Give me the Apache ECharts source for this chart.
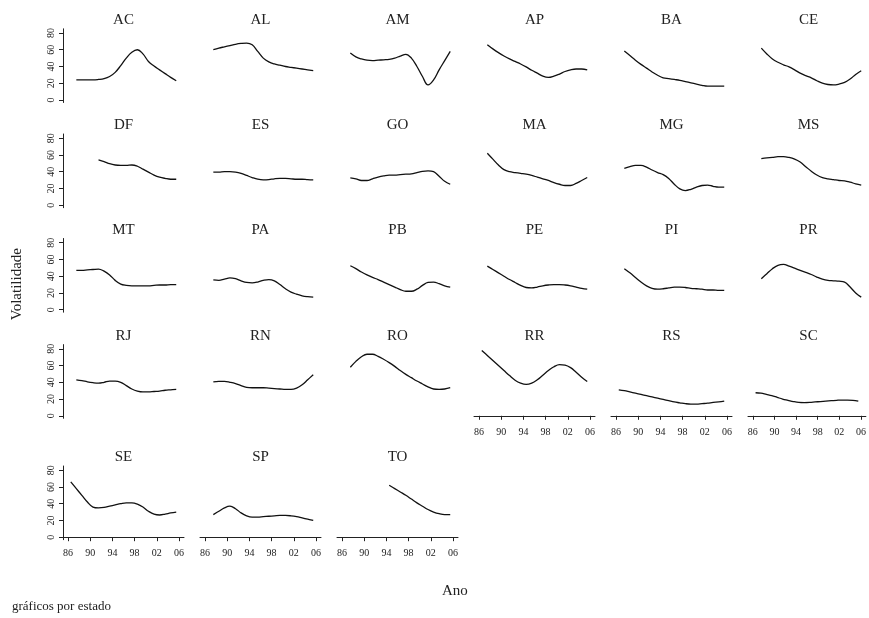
<!DOCTYPE html>
<html>
<head>
<meta charset="utf-8">
<script src="https://cdn.jsdelivr.net/npm/echarts@6/dist/echarts.min.js"></script>
<style>
  html, body { margin: 0; background: #fff; }
  #chart { width: 869px; height: 618px; }
</style>
</head>
<body>
<div id="chart"></div>
<script>
// mid-year points of the smoothed volatility curves
const years = [1986.5, 1987.5, 1988.5, 1989.5, 1990.5, 1991.5, 1992.5, 1993.5, 1994.5, 1995.5,
  1996.5, 1997.5, 1998.5, 1999.5, 2000.5, 2001.5, 2002.5, 2003.5, 2004.5, 2005.5]

const states = ['AC', 'AL', 'AM', 'AP', 'BA', 'CE', 'DF', 'ES', 'GO', 'MA', 'MG', 'MS', 'MT', 'PA',
  'PB', 'PE', 'PI', 'PR', 'RJ', 'RN', 'RO', 'RR', 'RS', 'SC', 'SE', 'SP', 'TO']

const AC = [null, 24, 24, 24, 24, 24.5, 25.5, 28, 33, 41, 50, 57, 60, 55, 46, 40.5, 36, 31.5, 27, 23]
const AL = [null, 60, 62, 63.5, 65, 66.5, 67.5, 68, 66, 58, 50, 45.5, 43, 41.5, 40, 39, 38, 37, 36, 35]
const AM = [null, 56, 51.5, 49, 47.5, 47, 47.5, 48, 48.5, 50, 52.5, 54.5, 50, 40, 28, 18, 24, 36, 47, 58]
const AP = [null, 66, 61, 56.5, 52.5, 49, 46, 43, 39.5, 35.5, 32, 28.5, 27, 28.5, 31, 34, 36, 37, 37, 36]
const BA = [null, 58.5, 53, 47.5, 42.5, 38, 33.5, 29.5, 26.5, 25.5, 24.5, 23.5, 22, 20.5, 19, 17.5, 16.5, 16.5, 16.5, 16.5]
const CE = [null, 62, 55, 49, 45, 42, 39.5, 36, 32, 29, 26.5, 23, 20, 18.5, 18, 19, 21, 25, 30.5, 35]
const DF = [null, null, null, null, null, 54, 52, 49.5, 48, 47.5, 47.5, 48, 46.5, 43, 39.5, 36, 33.5, 32, 31, 31]
const ES = [null, 39.5, 39.5, 40, 40, 39.5, 38, 35.5, 33, 31, 30.2, 30.5, 31.5, 32, 32, 31.5, 31, 31, 30.5, 30.2]
const GO = [null, 32.5, 31.5, 29.5, 29.5, 31.5, 33.5, 35, 36, 36, 36.5, 37, 37.5, 39, 40.5, 41, 40, 34.5, 28.5, 25]
const MA = [null, 62, 55, 48, 42.5, 40, 39, 38, 37, 35.5, 33.5, 31.5, 29.5, 27, 25, 23.5, 23.5, 26, 29.5, 33]
const MG = [null, 44, 46, 47.5, 47.5, 45.5, 42, 39, 36.5, 32, 25, 19.5, 17.5, 19, 21.5, 23.5, 24, 22.5, 21.5, 21.5]
const MS = [null, 55.5, 56.5, 57, 58, 58, 57, 55, 51.5, 46, 40.5, 36, 33, 31.5, 30.5, 29.5, 29, 27.5, 25.5, 24]
const MT = [null, 47, 47, 47.5, 48, 48.5, 46, 41.5, 35, 30.5, 29, 28.5, 28.5, 28.5, 28.5, 29, 29.5, 29.5, 30, 30]
const PA = [null, 35.5, 35, 36.5, 38, 37, 34.5, 32.5, 32, 33, 35, 36, 34.5, 30, 25, 21, 18.5, 16.5, 15.5, 15]
const PB = [null, 52.5, 49, 45, 41.5, 38.5, 36, 33, 30, 27, 24, 22, 22, 24.5, 29, 32.5, 33, 31, 28.5, 27]
const PE = [null, 52, 48, 44, 40, 36, 32.5, 29, 26.5, 26, 27, 28.5, 29.5, 30, 30, 29.5, 28.5, 27, 25.5, 24.5]
const PI = [null, 49, 44, 38.5, 33, 28.5, 25.5, 24.5, 25, 26, 27, 27, 26.5, 25.5, 25, 24.5, 23.5, 23.5, 23, 23]
const PR = [null, 37, 43, 49, 53, 54, 52, 49.5, 47, 44.5, 42, 39, 36.5, 35, 34.5, 34, 33, 27, 20, 15]
const RJ = [null, 43, 42, 40.5, 39.5, 39, 40, 41.5, 41.5, 40, 36, 32, 29.5, 28.5, 28.5, 29, 29.5, 30.5, 31, 31.5]
const RN = [null, 40.5, 41, 41, 40, 38.5, 36, 34, 33.5, 33.5, 33.5, 33, 32.5, 32, 31.5, 31.5, 33, 37, 43, 49]
const RO = [null, 58, 65, 70.5, 73.5, 73.5, 71, 67.5, 63.5, 59, 54, 49.5, 45.5, 41.5, 38, 34.5, 32, 31.5, 32, 33.5]
const RR = [78, 72, 66, 60, 54, 48, 42.5, 39, 37.5, 39, 43, 48.5, 54, 58.5, 61, 60.5, 57.5, 52, 46, 41]
const RS = [31, 30, 28.5, 27, 25.5, 24, 22.5, 21, 19.5, 18, 16.5, 15.5, 14.5, 14, 14, 14.5, 15, 16, 16.5, 17.5]
const SC = [27.5, 27, 25.5, 24, 22, 20, 18.5, 17, 16, 15.8, 16, 16.5, 17, 17.5, 18, 18.5, 18.8, 18.8, 18.5, 17.5]
const SE = [66, 58, 50, 42, 36, 35, 35.5, 37, 38.5, 40, 41, 41, 39.5, 36, 31, 27.5, 26.5, 27.5, 29, 30]
const SP = [null, 27, 31, 35, 37, 34, 29, 25.5, 24, 24, 24.5, 25, 25.5, 26, 26, 25.5, 24.5, 23, 21.5, 20]
const TO = [null, null, null, null, null, null, null, null, 62, 58, 54, 50, 45.5, 41, 37, 33, 30, 28, 27, 27]

const values = { AC, AL, AM, AP, BA, CE, DF, ES, GO, MA, MG, MS, MT, PA, PB, PE, PI, PR, RJ, RN, RO, RR, RS, SC, SE, SP, TO }

const xTicks = [1986, 1990, 1994, 1998, 2002, 2006]
const yTicks = [0, 20, 40, 60, 80]

const serif = 'Liberation Serif'
const ink = '#222'
const rowTops = [28.8, 134, 238.5, 344.6, 466]
const panelW = 121
const panelH = 73.7

const grids = []
const xAxes = []
const yAxes = []
const series = []
const titles = []

states.forEach((s, i) => {
  const col = i % 6
  const row = Math.floor(i / 6)
  const left = 63 + 137 * col
  const top = rowTops[row]
  const showX = i + 6 >= states.length
  grids.push({ left: left, top: top, width: panelW, height: panelH })
  titles.push({
    text: s,
    left: left + panelW / 2,
    top: top - 16,
    textAlign: 'center',
    padding: 0,
    textStyle: { fontFamily: serif, fontSize: 15, fontWeight: 'normal', color: ink }
  })
  xAxes.push({
    type: 'value',
    gridIndex: i,
    min: 1985.1,
    max: 2006.9,
    show: showX,
    axisLine: { lineStyle: { color: ink, width: 1 } },
    axisTick: { customValues: xTicks, length: 4, lineStyle: { color: ink } },
    axisLabel: {
      customValues: xTicks,
      formatter: v => String(v).slice(2),
      fontFamily: serif,
      fontSize: 10,
      color: ink,
      margin: 9
    },
    splitLine: { show: false }
  })
  yAxes.push({
    type: 'value',
    gridIndex: i,
    min: -3,
    max: 85,
    show: col === 0,
    axisLine: { show: true, lineStyle: { color: ink, width: 1 } },
    axisTick: { show: true, customValues: yTicks, length: 4, lineStyle: { color: ink } },
    axisLabel: {
      customValues: yTicks,
      rotate: 90,
      fontFamily: serif,
      fontSize: 10,
      color: ink,
      margin: 7
    },
    splitLine: { show: false }
  })
  const data = []
  years.forEach((y, k) => {
    if (values[s][k] !== null) data.push([y, values[s][k]])
  })
  series.push({
    name: s,
    type: 'line',
    xAxisIndex: i,
    yAxisIndex: i,
    data: data,
    showSymbol: false,
    smooth: 0.4,
    lineStyle: { color: '#111', width: 1.3 }
  })
})

const chart = echarts.init(document.getElementById('chart'))
chart.setOption({
  animation: false,
  backgroundColor: '#fff',
  title: titles,
  grid: grids,
  xAxis: xAxes,
  yAxis: yAxes,
  series: series,
  graphic: [
    {
      type: 'text',
      left: 10,
      top: 248,
      rotation: Math.PI / 2,
      style: { text: 'Volatilidade', font: '15px "Liberation Serif"', fill: ink }
    },
    {
      type: 'text',
      left: 442,
      top: 584,
      style: { text: 'Ano', font: '15px "Liberation Serif"', fill: ink }
    },
    {
      type: 'text',
      left: 12,
      top: 600,
      style: { text: 'gráficos por estado', font: '13px "Liberation Serif"', fill: ink }
    }
  ]
})
</script>
</body>
</html>
